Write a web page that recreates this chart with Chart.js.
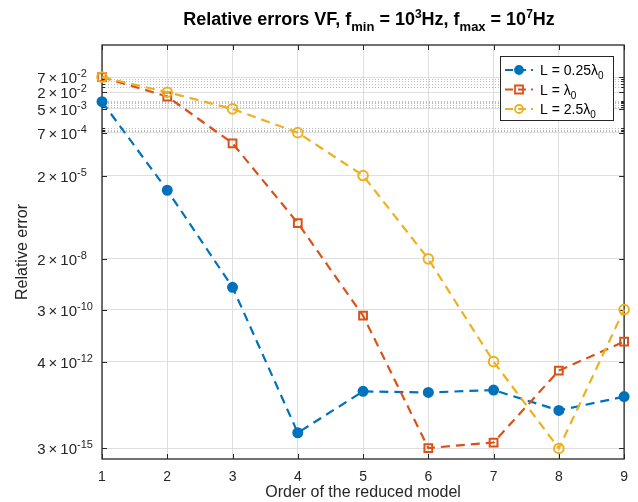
<!DOCTYPE html>
<html>
<head>
<meta charset="utf-8">
<script src="https://cdn.jsdelivr.net/npm/chart.js@4/dist/chart.umd.min.js"></script>
<style>html,body{margin:0;padding:0;background:#fff}</style>
</head>
<body>
<div style="width:638px;height:502px"><canvas id="grafica"></canvas></div>
<script>
// datos
var orden = [1, 2, 3, 4, 5, 6, 7, 8, 9];
var errL025 = [9.1e-3, 5.9e-6, 1.9e-9, 1.1e-14, 3.4e-13, 3.1e-13, 3.8e-13, 7e-14, 2.2e-13];
var errL1 = [7e-2, 1.4e-2, 2.9e-4, 3.9e-7, 1.8e-10, 3.1e-15, 4.9e-15, 1.9e-12, 2.1e-11];
var errL25 = [7e-2, 2e-2, 5e-3, 7e-4, 2e-5, 2e-8, 4e-12, 3e-15, 3e-10];
var ticksY = [7e-2, 2e-2, 5e-3, 7e-4, 2e-5, 2e-8, 3e-10, 4e-12, 3e-15];
var mantisasY = ['7', '2', '5', '7', '2', '2', '3', '4', '3'];
var exponentesY = ['-2', '-2', '-3', '-4', '-5', '-8', '-10', '-12', '-15'];
var menoresY = [6e-2, 5e-2, 4e-2, 3e-2, 1e-2, 9e-3, 8e-3, 7e-3, 6e-3, 1e-3, 9e-4, 8e-4];
var nombres = ['L = 0.25λ', 'L = λ', 'L = 2.5λ'];
var colores = ['#0072BD', '#D95319', '#EDB120'];

var fuente = "'Liberation Sans', Arial, sans-serif";
var tinta = '#262626';

function textoRico(ctx, partes, x, y, align) {
  var total = 0;
  partes.forEach(function (p) { ctx.font = p.f; p.w = ctx.measureText(p.t).width; total += p.w; });
  var cx = x;
  if (align === 'center') cx = x - total / 2;
  if (align === 'right') cx = x - total;
  ctx.textAlign = 'left';
  ctx.textBaseline = 'alphabetic';
  partes.forEach(function (p) { ctx.font = p.f; ctx.fillText(p.t, cx, y + (p.dy || 0)); cx += p.w; });
}

var ejesMatlab = {
  id: 'ejesMatlab',
  beforeDatasetsDraw: function (chart) {
    var ctx = chart.ctx, a = chart.chartArea, y = chart.scales.y, x = chart.scales.x;
    ctx.save();
    // grid menor punteada
    ctx.strokeStyle = '#bdbdbd';
    ctx.lineWidth = 1;
    ctx.setLineDash([1, 2]);
    menoresY.forEach(function (v) {
      var py = Math.round(y.getPixelForValue(v)) + 0.5;
      ctx.beginPath(); ctx.moveTo(a.left, py); ctx.lineTo(a.right, py); ctx.stroke();
    });
    ctx.setLineDash([]);
    // caja
    ctx.strokeStyle = tinta;
    ctx.lineWidth = 1.3;
    ctx.strokeRect(a.left, a.top, a.right - a.left, a.bottom - a.top);
    ctx.lineWidth = 1;
    // marcas hacia dentro
    orden.forEach(function (v) {
      var px = Math.round(x.getPixelForValue(v)) + 0.5;
      ctx.beginPath();
      ctx.moveTo(px, a.bottom); ctx.lineTo(px, a.bottom - 5);
      ctx.moveTo(px, a.top); ctx.lineTo(px, a.top + 5);
      ctx.stroke();
    });
    ticksY.forEach(function (v) {
      var py = Math.round(y.getPixelForValue(v)) + 0.5;
      ctx.beginPath();
      ctx.moveTo(a.left, py); ctx.lineTo(a.left + 5, py);
      ctx.moveTo(a.right, py); ctx.lineTo(a.right - 5, py);
      ctx.stroke();
    });
    menoresY.forEach(function (v) {
      var py = Math.round(y.getPixelForValue(v)) + 0.5;
      ctx.beginPath();
      ctx.moveTo(a.left, py); ctx.lineTo(a.left + 3, py);
      ctx.moveTo(a.right, py); ctx.lineTo(a.right - 3, py);
      ctx.stroke();
    });
    // etiquetas del eje y con exponente
    ctx.fillStyle = tinta;
    ticksY.forEach(function (v, i) {
      var py = y.getPixelForValue(v);
      ctx.font = '15px ' + fuente;
      ctx.textAlign = 'right';
      ctx.textBaseline = 'alphabetic';
      ctx.fillText(mantisasY[i] + '\u2009×\u200910', a.left - 25, py + 6);
      ctx.font = '11px ' + fuente;
      ctx.textAlign = 'left';
      ctx.fillText(exponentesY[i], a.left - 25, py);
    });
    ctx.restore();
  },
  afterDraw: function (chart) {
    var ctx = chart.ctx;
    ctx.save();
    ctx.fillStyle = '#000';
    var b = 'bold 18px ' + fuente, bs = 'bold 13px ' + fuente, bp = 'bold 12px ' + fuente;
    textoRico(ctx, [
      { t: 'Relative errors VF, f', f: b },
      { t: 'min', f: bs, dy: 6 },
      { t: ' = 10', f: b },
      { t: '3', f: bp, dy: -7 },
      { t: 'Hz, f', f: b },
      { t: 'max', f: bs, dy: 6 },
      { t: ' = 10', f: b },
      { t: '7', f: bp, dy: -7 },
      { t: 'Hz', f: b }
    ], 369, 25, 'center');

    // leyenda
    var lx = 500, ly = 56, lw = 113, lh = 64;
    ctx.fillStyle = '#fff';
    ctx.fillRect(lx, ly, lw, lh);
    ctx.strokeStyle = tinta;
    ctx.lineWidth = 1;
    ctx.strokeRect(lx + 0.5, ly + 0.5, lw, lh);
    chart.data.datasets.forEach(function (ds, i) {
      var fy = ly + 14 + i * 19.5;
      ctx.strokeStyle = ds.borderColor;
      ctx.lineWidth = 2.2;
      ctx.setLineDash([8, 5]);
      ctx.beginPath(); ctx.moveTo(lx + 5, fy); ctx.lineTo(lx + 33, fy); ctx.stroke();
      ctx.setLineDash([]);
      ctx.lineWidth = 1.8;
      ctx.beginPath();
      if (ds.pointStyle === 'rect') {
        ctx.rect(lx + 15, fy - 4, 8, 8);
      } else {
        ctx.arc(lx + 19, fy, 4, 0, Math.PI * 2);
      }
      if (i === 0) { ctx.fillStyle = ds.borderColor; ctx.fill(); }
      ctx.stroke();
      ctx.fillStyle = '#000';
      textoRico(ctx, [
        { t: nombres[i], f: '14px ' + fuente },
        { t: '0', f: '10px ' + fuente, dy: 4 }
      ], lx + 40, fy + 5, 'left');
    });
    ctx.restore();
  }
};

var datos = {
  labels: orden,
  datasets: [
    { label: nombres[0], data: errL025, borderColor: colores[0], pointBackgroundColor: colores[0],
      pointStyle: 'circle', pointRadius: 4.5, order: 2 },
    { label: nombres[1], data: errL1, borderColor: colores[1], pointBackgroundColor: 'rgba(0,0,0,0)',
      pointStyle: 'rect', pointRadius: 5.5, order: 1 },
    { label: nombres[2], data: errL25, borderColor: colores[2], pointBackgroundColor: 'rgba(0,0,0,0)',
      pointStyle: 'circle', pointRadius: 4.8, order: 0 }
  ].map(function (d) {
    d.data = d.data.map(function (v, i) { return { x: orden[i], y: v }; });
    d.borderWidth = 2.2;
    d.borderDash = [9, 6];
    d.pointBorderColor = d.borderColor;
    d.pointBorderWidth = 2;
    d.fill = false;
    d.tension = 0;
    d.clip = false;
    return d;
  })
};

var chart = new Chart(document.getElementById('grafica').getContext('2d'), {
  type: 'line',
  data: datos,
  options: {
    responsive: true,
    maintainAspectRatio: false,
    animation: false,
    layout: { padding: { left: 0, top: 45, right: 12, bottom: 0 } },
    plugins: { legend: { display: false }, title: { display: false }, tooltip: { enabled: false } },
    scales: {
      x: {
        type: 'linear', min: 1, max: 9,
        afterBuildTicks: function (s) { s.ticks = orden.map(function (v) { return { value: v }; }); },
        afterFit: function (s) { s.height = 43; },
        grid: { color: '#dedede', drawTicks: false },
        border: { display: false },
        ticks: { color: tinta, font: { family: fuente, size: 14 }, padding: 10, maxRotation: 0 },
        title: { display: true, text: 'Order of the reduced model', color: tinta,
                 font: { family: fuente, size: 16 }, padding: { top: 0, bottom: 0 } }
      },
      y: {
        type: 'logarithmic', min: 1.25e-15, max: 1,
        afterBuildTicks: function (s) { s.ticks = ticksY.map(function (v) { return { value: v }; }); },
        afterFit: function (s) { s.width = 102; },
        grid: { color: '#dedede', drawTicks: false },
        border: { display: false },
        ticks: { display: false },
        title: { display: true, text: 'Relative error', color: tinta,
                 font: { family: fuente, size: 16 }, padding: { top: 13, bottom: 0 } }
      }
    }
  },
  plugins: [ejesMatlab]
});
</script>
</body>
</html>
